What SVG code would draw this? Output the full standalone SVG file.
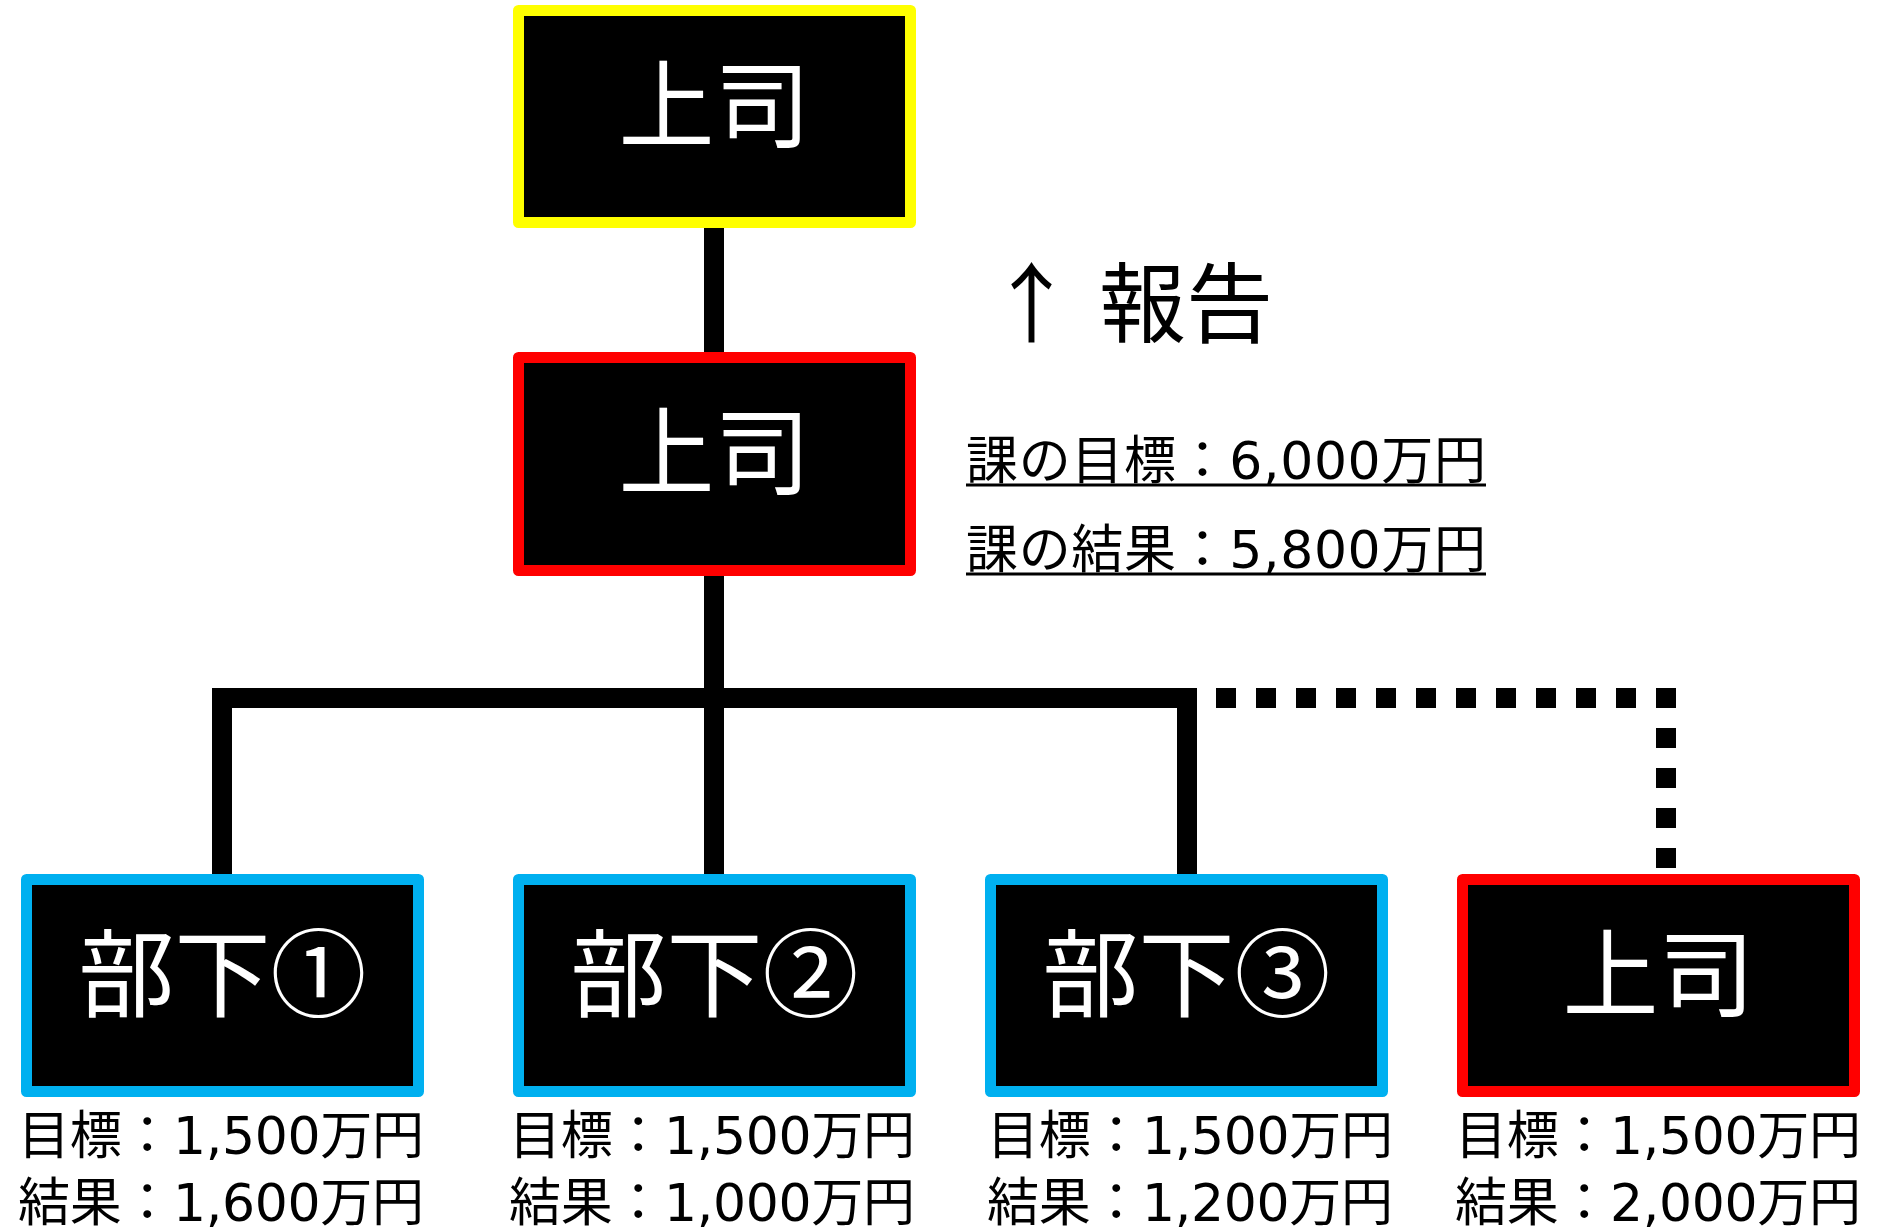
<svg xmlns="http://www.w3.org/2000/svg" width="1880" height="1232" viewBox="0 0 1880 1232">
  <style>
    .box { fill: #000000; stroke-width: 11; stroke-linejoin: round; }
    .yellow { stroke: #FFFF00; }
    .red { stroke: #FF0000; }
    .blue { stroke: #00B0F0; }
    .name { font-family: "Noto Sans CJK JP", sans-serif; font-size: 96px; fill: #FFFFFF; text-anchor: middle; }
    .lbl { font-family: "DejaVu Sans", "Noto Sans CJK JP", sans-serif; font-size: 52px; fill: #000000; }
    .mid { text-anchor: middle; }
    .report { font-family: "Noto Sans CJK JP", sans-serif; font-size: 87px; fill: #000000; }
    .solid { fill: none; stroke: #000000; stroke-width: 20; stroke-linejoin: miter; }
    .dot { fill: none; stroke: #000000; stroke-width: 20; stroke-dasharray: 20 20; }
    .ul { stroke: #000000; stroke-width: 3; }
  </style>
  <rect width="1880" height="1232" fill="#FFFFFF"/>
  <g id="connectors">
    <path class="solid" d="M714,228 V354"/>
    <path class="solid" d="M714,574 V876"/>
    <path class="solid" d="M222,876 V698 H1187 V876"/>
    <path class="dot" d="M1216,698 H1676"/>
    <path class="dot" d="M1666,728 V868"/>
  </g>
  <g id="boss-top">
    <rect class="box yellow" x="518.5" y="10.5" width="392" height="212"/>
    <text class="name" x="714.5" y="140">上司</text>
  </g>
  <g id="boss-mid">
    <rect class="box red" x="518.5" y="357.5" width="392" height="213"/>
    <text class="name" x="714.5" y="487">上司</text>
  </g>
  <g id="report-label">
    <text class="report" x="988" y="336">↑<tspan dx="24">報告</tspan></text>
  </g>
  <g id="section-summary">
    <text class="lbl" x="966" y="479" textLength="520" lengthAdjust="spacing">課の目標：6,000万円</text>
    <line class="ul" x1="966" y1="485" x2="1486" y2="485"/>
    <text class="lbl" x="966" y="568" textLength="520" lengthAdjust="spacing">課の結果：5,800万円</text>
    <line class="ul" x1="966" y1="574" x2="1486" y2="574"/>
  </g>
  <g id="sub1">
    <rect class="box blue" x="26.5" y="879.5" width="392" height="212"/>
    <text class="name" x="222.5" y="1009">部下①</text>
    <text class="lbl mid" x="221" y="1154" textLength="406" lengthAdjust="spacing">目標：1,500万円</text>
    <text class="lbl mid" x="221" y="1221" textLength="406" lengthAdjust="spacing">結果：1,600万円</text>
  </g>
  <g id="sub2">
    <rect class="box blue" x="518.5" y="879.5" width="392" height="212"/>
    <text class="name" x="714.5" y="1009">部下②</text>
    <text class="lbl mid" x="712" y="1154" textLength="406" lengthAdjust="spacing">目標：1,500万円</text>
    <text class="lbl mid" x="712" y="1221" textLength="406" lengthAdjust="spacing">結果：1,000万円</text>
  </g>
  <g id="sub3">
    <rect class="box blue" x="990.5" y="879.5" width="392" height="212"/>
    <text class="name" x="1186.5" y="1009">部下③</text>
    <text class="lbl mid" x="1190" y="1154" textLength="406" lengthAdjust="spacing">目標：1,500万円</text>
    <text class="lbl mid" x="1190" y="1221" textLength="406" lengthAdjust="spacing">結果：1,200万円</text>
  </g>
  <g id="boss-other">
    <rect class="box red" x="1462.5" y="879.5" width="392" height="212"/>
    <text class="name" x="1658.5" y="1009">上司</text>
    <text class="lbl mid" x="1658" y="1154" textLength="406" lengthAdjust="spacing">目標：1,500万円</text>
    <text class="lbl mid" x="1658" y="1221" textLength="406" lengthAdjust="spacing">結果：2,000万円</text>
  </g>
</svg>
